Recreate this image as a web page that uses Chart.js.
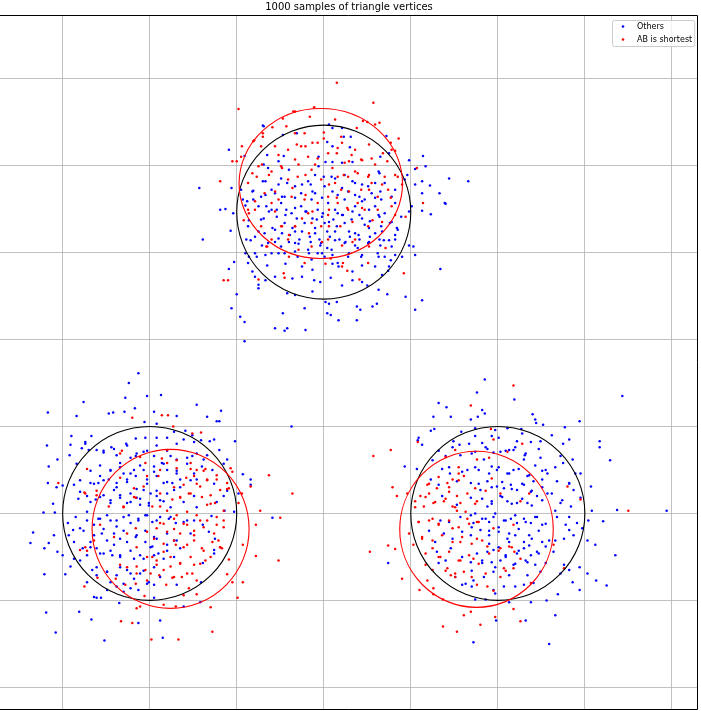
<!DOCTYPE html>
<html>
<head>
<meta charset="utf-8">
<script src="https://cdn.jsdelivr.net/npm/chart.js@4.4.1/dist/chart.umd.min.js"></script>
<style>
  html, body { margin: 0; padding: 0; background: #fff; }
</style>
</head>
<body>
<canvas id="c" width="701" height="711"></canvas>
<script>
const chartTitle = "1000 samples of triangle vertices";
const seriesLabels = ["Others", "AB is shortest"];
const seriesColors = ["#0000ff", "#ff0000"];

const xTicks = [-3, -2, -1, 0, 1, 2, 3, 4];
const yTicks = [-2, -1, 0, 1, 2, 3, 4, 5];
const xRange = [-3.72, 4.30];
const yRange = [-2.26, 5.73];

// [cx, cy, rx, ry] in data units
const vertexCircles = [[0, 3.464, 1, 1], [-2, 0, 1, 1], [2, 0, 1, 1]];
const shortestCircles = [[-0.034, 3.793, 0.939, 0.862], [-1.76, -0.178, 0.902, 0.914], [1.755, -0.183, 0.882, 0.897]];

// top vertex
const topOthers = [
  [-1.43,3.74],[-1.09,4.18],[-0.91,4.11],[-0.69,4.45],[-0.47,4.35],[0.06,4.47],[0.10,4.43],[0.21,4.43],[0.31,4.33],[0.23,4.33],[0.04,4.27],[0.10,4.22],[0.30,4.21],[0.72,4.34],[0.65,4.10],[0.75,4.14],[0.98,4.06],[1.14,4.11],[1.17,3.99],[1.05,3.96],[0.96,3.89],[1.44,3.85],[1.66,3.82],[1.05,3.78],[1.13,3.82],[1.22,3.77],[1.33,3.68],[1.39,3.57],[1.13,3.68],[-0.65,4.12],[-0.46,4.11],[-0.52,4.05],[-0.69,4.01],[-0.40,3.95],[-0.06,4.10],[0.02,4.04],[0.10,4.04],[0.21,4.03],[0.33,4.04],[-0.06,3.99],[-0.10,3.89],[0.00,3.87],[-0.25,3.78],[-0.15,3.78],[0.13,3.85],[0.33,3.82],[0.44,3.78],[0.59,3.80],[0.63,3.93],[-0.67,3.82],[-0.52,3.78],[-0.42,3.80],[-0.82,3.70],[-0.88,3.59],[-0.67,3.66],[-0.48,3.64],[-0.33,3.63],[-0.13,3.70],[-0.02,3.63],[0.10,3.70],[0.21,3.74],[0.36,3.66],[0.44,3.59],[0.59,3.63],[0.65,3.70],
  [-1.19,3.49],[-1.13,3.50],[-1.39,3.15],[-1.07,3.25],[-0.90,3.54],[-0.86,3.37],[-0.69,3.39],[-0.63,3.47],[-0.54,3.49],[-0.44,3.43],[-0.33,3.51],[-0.21,3.47],[-0.13,3.39],[-0.02,3.41],[0.06,3.35],[0.13,3.49],[0.21,3.43],[0.33,3.47],[0.44,3.39],[0.52,3.49],[0.63,3.43],[0.78,3.35],[0.84,3.28],[0.98,3.47],[1.13,3.48],[1.23,3.44],[1.40,3.56],
  [-0.75,3.24],[-0.59,3.28],[-0.48,3.22],[-0.36,3.28],[-0.25,3.24],[-0.10,3.28],[0.04,3.24],[0.15,3.30],[0.29,3.24],[0.40,3.20],[0.52,3.28],[0.67,3.24],[0.75,3.14],[0.82,3.20],
  [-0.84,3.14],[-0.71,3.08],[-0.56,3.12],[-0.40,3.12],[-0.29,3.10],[-0.15,3.12],[-0.04,3.08],[0.04,3.05],[0.13,3.14],[0.25,3.12],[0.36,3.08],[0.52,3.12],[0.65,3.08],[0.69,3.14],[0.98,3.08],[1.03,3.07],[1.05,2.97],[0.90,2.95],[0.82,2.97],
  [-0.90,2.99],[-0.86,2.95],[-0.77,2.95],[-0.67,2.97],[-0.52,2.99],[-0.33,3.01],[-0.17,2.99],[-0.02,2.99],[0.10,2.97],[0.29,2.99],[0.44,2.97],[0.63,2.95],
  [-1.03,2.89],[-1.09,2.81],[-0.65,2.85],[-0.44,2.87],[-0.25,2.84],[-0.13,2.80],[0.10,2.87],[0.17,2.84],[0.33,2.78],[0.44,2.85],[0.59,2.84],[0.75,2.84],[0.77,2.91],[1.34,2.81],
  [-0.82,2.78],[-0.79,2.72],[-0.67,2.68],[-0.75,2.59],[-0.56,2.72],[-0.36,2.70],[-0.25,2.72],[-0.11,2.68],[-0.04,2.66],[0.08,2.71],[0.21,2.62],[0.33,2.68],[0.44,2.66],[0.50,2.62],[0.67,2.74],[0.74,2.79],
  [-1.00,2.52],[-0.42,2.53],[-0.33,2.51],[-0.13,2.55],[0.02,2.43],[0.06,2.41],[0.15,2.43],[0.63,2.57],[0.73,2.52],[0.61,2.41],[0.56,2.38],[0.94,2.49],[1.13,2.45],[1.05,2.34],
  [-1.06,2.36],[-0.96,2.26],[-0.91,2.20],[-0.47,2.30],[-0.56,2.13],[-0.45,2.10],[-0.42,2.13],[-0.21,2.11],[-0.22,2.36],[0.04,2.30],[0.08,2.28],[0.17,2.22],[0.38,2.38],[0.42,2.34],[0.38,2.22],[-0.91,1.98],[-0.75,2.63],
  [-0.70,4.46],[-0.31,4.37],[-0.64,3.97],[-0.49,3.85],[-0.70,3.82],[-0.81,3.71],[-0.60,3.72],[-0.33,3.76],[-0.18,3.82],[0.09,3.87],[0.24,3.89],[0.36,3.80],[0.51,3.76],[0.64,3.91],[0.70,3.80],[0.82,3.72],[0.93,3.84],
  [-0.95,3.72],[-0.93,3.61],[-0.75,3.53],[-0.60,3.49],[-0.49,3.57],[-0.37,3.45],[-0.26,3.53],[-0.14,3.61],[-0.07,3.49],[0.05,3.57],[0.16,3.45],[0.24,3.61],[0.36,3.53],[0.47,3.61],[0.59,3.53],[0.70,3.45],[0.82,3.57],[0.89,3.41],
  [-0.87,3.30],[-0.72,3.38],[-0.56,3.26],[-0.45,3.34],[-0.33,3.24],[-0.22,3.34],[-0.10,3.22],[0.01,3.34],[0.13,3.24],[0.24,3.34],[0.36,3.22],[0.47,3.32],[0.59,3.22],[0.66,3.30],
  [-0.64,3.11],[-0.49,3.07],[-0.33,3.11],[-0.18,3.03],[-0.03,3.11],[0.09,3.03],[0.24,3.11],[0.39,3.05],[0.51,3.11],[-0.14,2.92],[0.01,2.95],[0.16,2.88],[0.43,2.95],[-0.79,2.99],[-0.87,2.88],[0.78,3.07],[0.70,2.95],[-1.04,3.45],[-1.06,3.74],[1.01,3.53],
  [-0.81,3.61],[-0.66,3.53],[-0.54,3.41],[-0.43,3.49],[-0.31,3.39],[-0.20,3.47],[-0.08,3.38],[-0.01,3.45],[0.11,3.38],[0.22,3.43],[0.32,3.38],[0.41,3.43],[0.53,3.36],[0.64,3.41],[0.76,3.34],[0.85,3.26],
  [-0.79,3.18],[-0.68,3.22],[-0.52,3.16],[-0.39,3.20],[-0.28,3.15],[-0.16,3.18],[-0.05,3.15],[0.07,3.18],[0.18,3.15],[0.30,3.18],[0.41,3.15],[0.53,3.18],[0.64,3.15],
  [-0.72,3.64],[-0.56,3.68],[-0.45,3.64],[-0.26,3.68],[-0.10,3.68],[0.01,3.76],[0.16,3.66],[0.28,3.70],[0.41,3.64],[0.55,3.68],[0.66,3.61],[0.78,3.64],
  [-0.45,2.99],[-0.30,2.95],[-0.07,2.99],[0.28,2.95],[0.62,2.99],[-0.60,2.99],[-0.89,3.15],[0.82,3.15]
];
const topShortest = [
  [0.15,4.95],[-0.98,4.65],[0.57,4.72],[-0.11,4.67],[-1.19,3.82],[-0.33,4.62],[-0.47,4.54],[-0.16,4.56],[0.13,4.53],[0.50,4.50],[-0.59,4.44],[-0.43,4.45],[-0.70,4.33],[-0.80,4.29],[-0.94,4.22],[-1.05,4.05],[0.82,4.17],[0.77,4.26],[0.86,4.31],[0.59,4.47],[0.38,4.43],[0.52,4.24],[-0.33,4.37],[-0.56,4.22],[-0.31,4.24],[-0.21,4.22],[-0.13,4.26],[0.00,4.38],[0.00,4.31],[0.21,4.26],[0.15,4.14],[0.36,4.18],[0.29,4.05],[0.44,4.06],[0.73,4.05],[0.82,3.89],[1.07,3.97],[0.90,3.78],[-0.82,3.91],[-0.71,4.01],[-0.63,3.89],[-0.48,3.97],[-0.29,4.01],[-0.21,3.89],[-0.10,4.01],[0.10,3.97],[0.23,3.89],[0.36,3.93],[0.52,3.89],[0.67,3.78],[0.77,3.63],[-0.56,3.70],[-0.36,3.74],[0.06,3.78],[0.29,3.70],[0.52,3.72],[-0.79,3.59],[-0.21,3.66],[0.15,3.63],
  [-1.15,2.68],[-1.10,2.68],[-0.46,2.76],[-0.45,2.71],[-0.75,2.69],[0.27,2.79],[0.21,2.84],[0.51,2.88],[0.41,2.69],[0.92,2.76],[0.02,2.87],[0.08,2.93],[-0.40,2.95],[-0.65,3.07],[-0.29,3.03],[0.52,3.07],[0.71,3.05],[1.14,3.57],[0.94,3.41],[0.82,3.43],[-0.92,3.37],[-0.40,3.20],[-0.17,3.22],[-0.02,3.12],[0.21,3.08],[0.33,3.12],[-0.33,3.30],[-0.25,3.39],[-0.48,3.30],[0.06,3.30],[0.19,3.30],[0.33,3.35],[0.56,3.37],[0.67,3.35],[-0.56,3.47],[-0.13,3.47],[0.06,3.49],[0.27,3.51],[0.44,3.51],[-0.79,3.49],[-0.86,3.45],
  [-0.35,4.62],[-0.70,4.37],[-0.81,4.28],[-0.95,4.10],[-1.00,4.05],[-0.52,4.12],[-0.41,4.18],[-0.26,4.22],[-0.18,4.10],[-0.07,4.08],[0.05,4.14],[0.16,4.20],[0.32,4.12],[0.43,4.07],[0.55,4.08],[0.68,4.14],[0.78,4.18],[0.64,4.49],[0.45,4.51],
  [-0.60,3.93],[-0.49,3.99],[-0.30,3.87],[-0.14,3.95],[-0.03,3.84],[0.13,3.80],[0.28,3.87],[0.43,3.72],[0.55,3.80],[0.62,3.64],[0.74,3.72],[-0.68,3.68],[-0.52,3.61],[-0.37,3.64],[-0.22,3.61],[0.05,3.64],[0.20,3.72],[-0.87,3.49],[-0.18,3.45],[0.05,3.43],[0.28,3.49],[0.47,3.49],[0.62,3.49],[-0.33,3.30],[-0.14,3.34],[-0.60,3.15],[-0.41,3.15],[-0.14,3.07],[0.05,3.15],[0.36,3.15],[0.22,2.88],[-0.22,2.88],[-0.66,3.07],
  [-0.77,3.87],[-0.87,3.80],[-0.41,3.84],[0.16,3.87],[0.39,3.91],[0.51,3.87],[0.70,3.87],[0.85,3.87],[-0.75,3.99],[-0.33,4.07],[0.24,4.03],[0.59,4.01],[-0.72,4.22],[-0.07,4.26],[0.20,4.33],[-0.22,4.37],
  [-0.60,3.57],[-0.07,3.57],[0.16,3.57],[0.39,3.57],[0.78,3.53],[-0.72,3.30],[-0.49,3.30],[-0.03,3.30],[0.51,3.30]
];

// bottom-left vertex
const leftOthers = [
  [-2.13,1.61],[-2.24,1.50],[-2.03,1.35],[-1.87,1.36],[-2.28,1.33],[-2.76,1.28],[-3.17,1.16],[-2.84,1.12],[-2.47,1.15],[-2.42,1.16],[-2.29,1.17],[-2.17,1.21],[-1.95,1.17],[-1.69,1.12],[-1.46,1.25],[-1.34,1.11],[-1.18,1.18],[-1.23,1.06],[-1.20,1.06],[-2.06,1.05],[-1.92,1.03],[-0.37,1.00],
  [-3.18,0.78],[-3.06,0.62],[-3.16,0.54],[-3.17,0.35],[-3.07,0.30],[-3.00,0.32],[-2.90,0.89],[-2.91,0.79],[-2.74,0.82],[-2.70,0.73],[-2.67,0.89],[-2.78,0.75],[-2.92,0.67],[-2.61,0.73],[-2.53,0.72],[-2.44,0.76],[-2.27,0.80],[-2.16,0.86],[-2.05,0.87],[-1.92,0.87],[-1.80,0.87],[-1.72,0.94],[-1.59,0.95],[-1.61,0.85],[-1.51,0.90],[-1.49,0.82],[-1.41,0.84],[-1.31,0.83],[-1.26,0.85],[-1.20,0.73],[-1.02,0.83],[-1.11,0.62],[-1.15,0.57],[-0.93,0.45],[-0.84,0.39],[-0.84,0.33],[-0.98,0.23],
  [-2.38,0.67],[-2.34,0.58],[-2.22,0.64],[-2.16,0.66],[-2.07,0.71],[-1.95,0.66],[-1.86,0.58],[-1.76,0.66],[-1.69,0.62],[-1.57,0.64],[-1.51,0.66],[-1.38,0.62],[-1.34,0.67],[-1.40,0.54],[-1.28,0.50],[-1.49,0.46],[-1.69,0.46],[-1.80,0.50],[-1.95,0.54],[-2.07,0.50],[-2.18,0.50],[-2.30,0.46],[-2.45,0.50],[-2.57,0.43],[-2.68,0.35],[-2.59,0.35],[-2.47,0.39],[-2.38,0.35],[-2.26,0.39],[-2.16,0.43],[-2.03,0.39],[-1.92,0.43],[-1.84,0.35],[-1.74,0.35],[-1.65,0.39],
  [-2.72,0.20],[-2.80,0.25],[-2.87,0.33],[-2.62,0.16],[-2.53,0.21],[-2.41,0.27],[-2.34,0.18],[-2.22,0.23],[-2.15,0.18],[-2.07,0.27],[-1.99,0.23],[-1.92,0.20],[-1.80,0.23],[-1.72,0.27],[-1.84,0.14],[-2.01,0.12],[-2.11,0.10],[-2.26,0.12],[-2.45,0.12],[-1.46,0.39],[-1.15,0.20],[-1.49,0.20],[-3.11,0.11],
  [-3.22,0.01],[-3.09,0.01],[-3.34,-0.22],[-3.37,-0.34],[-3.21,-0.40],[-3.16,-0.34],[-3.10,-0.25],[-3.06,-0.44],[-3.00,-0.48],[-3.21,-0.70],[-3.19,-1.14],[-3.08,-1.37],[-2.81,-1.13],[-2.67,-1.22],[-2.52,-1.46],[-2.35,-1.03],[-2.13,-1.26],[-1.88,-1.23],[-1.85,-1.43],
  [-2.94,-0.11],[-2.88,-0.19],[-2.80,-0.17],[-2.93,-0.25],[-2.87,-0.33],[-2.72,-0.08],[-2.64,-0.13],[-2.57,-0.06],[-2.55,-0.23],[-2.45,-0.08],[-2.38,-0.15],[-2.30,-0.04],[-2.22,-0.11],[-2.13,-0.06],[-2.05,-0.02],[-1.97,-0.10],[-1.88,-0.04],[-1.78,-0.06],[-1.70,-0.11],[-1.61,-0.10],[-1.49,-0.08],[-1.39,-0.13],[-1.29,-0.03],[-1.14,0.03],[-1.32,-0.21],[-1.25,-0.29],[-1.26,-0.42],[-1.26,-0.46],[-1.39,-0.57],[-1.03,0.02],[-0.59,-0.05],
  [-2.77,-0.40],[-2.72,-0.48],[-2.80,-0.54],[-2.87,-0.52],[-2.91,-0.61],[-2.97,-0.70],[-2.68,-0.33],[-2.61,-0.40],[-2.49,-0.31],[-2.41,-0.36],[-2.34,-0.29],[-2.26,-0.33],[-2.15,-0.25],[-2.05,-0.33],[-1.97,-0.38],[-1.92,-0.29],[-1.80,-0.36],[-1.72,-0.31],[-1.65,-0.40],
  [-2.53,-0.46],[-2.43,-0.48],[-2.34,-0.48],[-2.18,-0.52],[-2.07,-0.52],[-1.95,-0.48],[-1.84,-0.52],[-1.72,-0.50],
  [-2.66,-0.65],[-2.61,-0.71],[-2.49,-0.67],[-2.38,-0.71],[-2.26,-0.65],[-2.18,-0.75],[-2.11,-0.69],[-2.72,-0.79],[-2.64,-0.96],[-2.61,-0.97],[-2.56,-0.97],[-2.49,-0.88],[-2.38,-0.84],[-2.30,-0.90],[-2.22,-0.86],[-2.13,-0.88],[-1.95,-0.82],[-1.69,-0.82],[-1.41,-0.79],[-1.42,-1.02],[-1.61,-1.07],[-1.95,-0.97],[-2.01,-0.79],
  [-2.74,0.80],[-2.53,0.70],[-2.41,0.74],[-2.26,0.78],[-2.15,0.69],[-2.03,0.72],[-1.92,0.78],[-1.80,0.72],[-1.69,0.80],[-2.84,0.57],[-2.68,0.49],[-2.57,0.55],[-2.45,0.49],[-2.34,0.53],[-2.22,0.46],[-2.11,0.55],[-1.95,0.48],[-1.84,0.57],[-1.69,0.49],[-1.57,0.57],[-1.46,0.69],
  [-2.80,0.38],[-2.64,0.34],[-2.53,0.38],[-2.38,0.30],[-2.26,0.36],[-2.15,0.28],[-2.03,0.34],[-1.92,0.26],[-1.80,0.36],[-1.65,0.30],[-1.53,0.38],[-1.26,0.34],[-1.11,0.26],
  [-2.82,0.17],[-2.68,0.13],[-2.57,0.19],[-2.45,0.15],[-2.34,0.21],[-2.22,0.13],[-2.11,0.17],[-2.01,0.09],[-1.88,0.15],[-1.76,0.07],[-1.61,0.13],[-1.46,0.07],[-1.23,0.13],
  [-2.85,-0.04],[-2.72,0.02],[-2.59,-0.06],[-2.49,-0.02],[-2.38,-0.08],[-2.24,-0.02],[-2.13,-0.08],[-2.03,-0.02],[-1.92,-0.08],[-1.76,-0.04],[-1.57,-0.08],
  [-2.76,-0.20],[-2.64,-0.25],[-2.53,-0.18],[-2.41,-0.23],[-2.30,-0.20],[-2.16,-0.27],[-2.05,-0.20],[-1.95,-0.27],[-1.80,-0.23],[-1.69,-0.31],[-1.53,-0.23],
  [-2.68,-0.39],[-2.57,-0.46],[-2.45,-0.43],[-2.34,-0.50],[-2.22,-0.43],[-2.11,-0.48],[-1.99,-0.39],[-1.90,-0.46],[-1.80,-0.43],
  [-2.61,-0.62],[-2.49,-0.67],[-2.34,-0.62],[-2.22,-0.69],[-2.07,-0.66],[-1.95,-0.62],[-1.88,-0.73],[-2.45,-0.79],[-2.30,-0.81],[-2.03,-0.81]
];
const leftShortest = [
  [-2.20,1.10],[-1.86,1.13],[-1.79,1.13],[-1.73,1.00],[-1.51,0.92],[-1.41,0.93],[-3.05,0.35],[-2.72,0.51],[-2.32,0.72],[-1.07,0.52],[-1.05,0.48],[-0.63,0.44],[-0.36,0.23],[-0.84,0.31],[-1.36,0.51],[-1.46,0.50],[-1.49,0.43],[-1.58,0.41],[-1.61,0.33],[-1.80,0.73],[-1.69,0.52],[-1.88,0.50],[-1.90,0.43],[-2.03,0.43],[-2.07,0.31],[-2.34,0.41],[-2.18,0.29],[-2.05,0.58],[-1.80,0.58],[-1.53,0.58],[-1.34,0.39],[-1.23,0.39],[-1.19,0.27],[-1.30,0.21],[-1.42,0.31],[-1.55,0.23],[-1.65,0.18],[-1.74,0.16],[-1.88,0.08],[-1.97,0.08],[-2.16,0.18],[-2.30,0.08],[-2.61,0.21],[-2.47,0.08],[-1.34,0.10],[-1.25,0.12],[-1.11,0.35],[-1.09,0.29],[-0.98,0.12],[-0.94,0.23],[-2.75,0.24],
  [-0.73,0.03],[-0.50,-0.05],[-0.78,-0.13],[-0.93,-0.36],[-0.78,-0.49],[-0.52,-0.54],[-1.05,-0.79],[-0.93,-0.79],[-0.99,-0.97],[-1.28,-1.36],[-1.67,-1.45],[-1.98,-1.45],[-1.30,-1.08],[-1.46,-0.93],[-1.55,-0.86],[-1.61,-0.94],[-1.70,-1.07],[-1.84,-1.05],[-2.15,-1.09],[-2.33,-1.24],[-2.20,-1.26],[-2.11,-1.07],[-2.06,-0.95],[-1.11,-0.70],[-1.09,-0.53],[-1.17,-0.40],[-1.21,-0.31],[-2.74,-0.39],[-2.75,-0.84],[-2.60,-0.74],[-2.34,-0.59],[-2.39,-0.75],[-2.28,-0.82],[-2.16,-0.81],[-2.15,-0.61],[-2.03,-0.77],[-2.05,-0.65],[-1.89,-0.71],[-1.81,-0.82],[-1.74,-0.74],[-1.63,-0.73],[-1.51,-0.69],[-1.49,-0.59],[-1.36,-0.54],[-1.65,-0.57],[-1.76,-0.61],[-1.92,-0.59],[-1.97,-0.50],[-1.84,-0.44],[-1.70,-0.36],[-1.57,-0.36],[-1.40,-0.40],[-1.19,-0.39],[-1.28,-0.33],[-1.49,-0.25],[-1.65,-0.23],[-1.80,-0.21],[-1.92,-0.17],[-2.03,-0.21],[-2.16,-0.17],[-2.26,-0.23],[-2.41,-0.27],[-2.57,-0.13],[-1.23,-0.13],[-1.42,-0.08],[-1.57,-0.13],[-1.72,-0.06],[-1.88,-0.11],[-1.15,-0.08],[-2.80,-0.42],
  [-2.34,0.69],[-2.11,0.65],[-1.86,0.63],[-1.69,0.61],[-1.53,0.51],[-1.38,0.49],[-1.46,0.34],[-1.34,0.38],[-1.23,0.44],[-1.11,0.28],[-1.72,0.30],[-1.88,0.23],[-1.65,0.19],[-1.53,0.23],[-1.40,0.19],[-1.30,0.11],[-1.15,0.03],[-2.18,0.19],[-2.30,0.07],
  [-1.80,0.03],[-1.69,-0.02],[-1.57,0.02],[-1.46,-0.02],[-1.34,-0.08],[-1.23,-0.04],[-1.84,-0.12],[-1.72,-0.18],[-1.61,-0.12],[-1.49,-0.20],[-1.38,-0.16],[-1.26,-0.23],[-1.15,-0.16],
  [-1.95,-0.29],[-1.84,-0.35],[-1.72,-0.31],[-1.61,-0.39],[-1.49,-0.31],[-1.38,-0.43],[-1.19,-0.39],[-2.15,-0.39],[-2.03,-0.50],[-1.92,-0.54],[-1.76,-0.50],[-1.65,-0.58],[-1.53,-0.50],[-1.42,-0.58],[-1.30,-0.50],
  [-2.26,-0.62],[-2.15,-0.69],[-1.99,-0.69],[-1.84,-0.65],[-1.72,-0.73],[-1.57,-0.69],[-1.46,-0.77],[-2.72,-0.43],[-2.64,-0.31],[-2.74,0.23],[-2.61,0.26]
];

// bottom-right vertex
const rightOthers = [
  [1.85,1.54],[1.76,1.39],[2.19,1.31],[1.32,1.27],[1.41,1.22],[1.82,1.19],[1.85,1.15],[1.77,1.11],[1.69,1.08],[1.26,1.11],[1.46,1.11],[2.40,1.14],[2.43,1.08],[2.44,1.04],[2.52,1.02],[2.94,1.06],[3.43,1.35],[1.23,0.95],[1.27,0.97],[1.09,0.87],[1.08,0.84],[1.13,0.79],[0.93,0.54],[1.07,0.51],[1.58,0.94],[1.74,0.98],[1.97,0.96],[2.11,0.98],[2.27,0.97],[2.28,0.92],[2.22,0.83],[2.38,0.82],[2.49,0.83],[2.62,0.90],[2.77,0.99],[2.82,0.85],[2.75,0.80],[3.17,0.83],[3.17,0.76],[3.29,0.61],[3.07,0.31],
  [1.49,0.83],[1.56,0.79],[1.67,0.80],[1.74,0.89],[1.82,0.81],[1.88,0.74],[1.93,0.89],[2.01,0.87],[1.95,0.70],[2.03,0.71],[2.13,0.73],[2.18,0.73],[2.31,0.67],[2.30,0.62],[2.43,0.55],[2.49,0.64],[2.55,0.50],[2.57,0.46],[2.72,0.66],[2.75,0.58],[2.86,0.62],[2.89,0.46],[2.95,0.46],[2.82,0.35],[2.87,0.27],[2.95,0.18],
  [1.40,0.66],[1.57,0.67],[1.74,0.71],[1.84,0.62],[1.36,0.51],[1.45,0.46],[1.53,0.37],[1.65,0.50],[1.78,0.50],[1.93,0.54],[1.99,0.50],[2.11,0.46],[2.18,0.50],[2.34,0.43],[2.41,0.37],[2.51,0.39],[2.68,0.37],[1.23,0.39],[1.32,0.33],[1.69,0.35],[1.80,0.27],[1.88,0.37],[1.99,0.31],[2.07,0.29],[2.15,0.33],[2.22,0.27],[2.30,0.33],[2.38,0.25],[2.45,0.20],[2.57,0.23],[2.03,0.20],[1.93,0.14],[2.11,0.14],[2.22,0.12],[2.34,0.12],[1.88,0.08],[1.69,0.18],[1.53,0.10],[1.36,0.20],[3.37,0.04],[2.72,0.12],[2.84,0.08],
  [3.08,0.03],[3.94,0.03],[3.04,-0.08],[3.21,-0.09],[3.03,-0.31],[3.12,-0.36],[3.35,-0.48],[2.94,-0.62],[3.03,-0.69],[3.13,-0.77],[3.25,-0.83],[2.94,-0.88],[2.86,-0.79],[2.69,-0.93],[2.56,-1.00],[2.38,-1.02],[2.32,-1.23],[1.98,-1.23],[2.66,-1.17],[2.59,-1.50],[1.72,-1.48],[0.74,-0.57],[1.21,-0.20],[1.34,-0.08],[1.44,-0.10],[1.57,-0.04],[1.69,-0.02],[1.72,-0.11],[1.82,-0.06],[1.90,-0.10],[1.95,-0.04],[2.07,-0.08],[2.15,-0.06],[2.22,-0.11],[2.30,-0.06],[2.38,-0.11],[2.45,-0.04],[2.51,-0.13],[2.68,-0.04],[2.78,-0.13],[2.82,-0.19],[2.91,-0.11],[2.97,-0.17],[2.87,-0.25],[2.76,-0.29],[2.66,-0.31],[2.51,-0.33],[2.39,-0.29],[2.30,-0.33],[2.20,-0.25],[2.11,-0.29],[2.01,-0.21],[1.90,-0.25],[1.80,-0.19],[1.69,-0.25],[1.59,-0.21],[1.48,-0.29],[1.38,-0.23],[1.28,-0.33],
  [2.64,-0.44],[2.55,-0.38],[2.45,-0.44],[2.38,-0.48],[2.30,-0.40],[2.22,-0.46],[2.09,-0.48],[1.95,-0.42],[1.88,-0.44],[1.76,-0.46],[1.30,-0.44],[1.46,-0.40],[1.59,-0.50],[1.32,-0.57],[1.40,-0.54],[1.69,-0.56],[1.82,-0.57],[1.93,-0.56],[2.03,-0.54],[2.18,-0.59],[2.34,-0.56],[2.43,-0.59],[2.55,-0.57],[2.76,-0.59],[2.82,-0.65],[2.72,-0.69],[2.49,-0.67],[2.34,-0.71],[2.13,-0.71],[1.95,-0.67],[1.84,-0.73],[1.72,-0.77],[1.59,-0.82],[1.70,-0.84],[1.95,-0.88],[1.97,-0.92],[2.07,-0.84],[2.20,-0.84],[2.30,-0.82],[2.41,-0.80],[1.74,-0.99],[1.86,-0.99],[2.13,-1.02],
  [1.48,0.76],[1.70,0.69],[1.86,0.76],[2.09,0.72],[2.20,0.76],[2.32,0.69],[2.47,0.74],[1.44,0.53],[1.59,0.48],[1.74,0.53],[1.90,0.46],[2.01,0.53],[2.13,0.46],[2.24,0.51],[2.36,0.44],[2.51,0.49],[2.66,0.53],[2.82,0.34],
  [1.78,0.34],[1.93,0.30],[2.05,0.36],[2.16,0.28],[2.28,0.34],[2.39,0.26],[2.51,0.30],[2.62,0.23],[2.74,0.15],[1.82,0.17],[1.93,0.11],[2.05,0.19],[2.16,0.11],[2.28,0.17],[2.39,0.09],[2.51,0.15],[2.66,0.03],[2.82,-0.04],
  [1.74,0.00],[1.86,-0.06],[1.97,0.00],[2.09,-0.08],[2.20,-0.02],[2.32,-0.10],[2.43,-0.04],[2.55,-0.12],[1.70,-0.16],[1.90,-0.20],[2.01,-0.16],[2.13,-0.23],[2.24,-0.18],[2.36,-0.25],[2.47,-0.20],[2.59,-0.31],
  [1.90,-0.35],[2.01,-0.39],[2.13,-0.33],[2.24,-0.43],[2.36,-0.37],[2.47,-0.46],[2.09,-0.50],[2.20,-0.58],[2.32,-0.54],[1.97,-0.62],[1.82,-0.54],[1.70,-0.66],[1.51,-0.73],[1.63,-0.81],[1.32,0.72],[1.25,0.61]
];
const rightShortest = [
  [2.18,1.47],[1.69,1.24],[0.57,0.66],[0.77,0.73],[1.08,0.82],[1.92,0.97],[1.95,0.85],[2.28,0.80],[2.11,0.71],[1.51,0.73],[1.90,0.64],[1.76,0.62],[0.79,0.30],[0.84,0.20],[0.96,0.23],[1.11,0.20],[1.21,0.23],[1.19,0.33],[1.30,0.29],[1.42,0.35],[1.48,0.39],[1.55,0.46],[1.61,0.43],[1.44,0.25],[1.53,0.20],[1.65,0.23],[1.74,0.29],[1.76,0.14],[1.57,0.12],[1.38,0.14],[1.26,0.12],[1.15,0.08],[1.05,0.14],[1.48,0.08],[2.03,0.23],[2.26,0.14],[2.36,0.23],[2.80,0.31],[2.95,0.16],
  [3.50,0.03],[0.53,-0.44],[0.74,-0.37],[0.82,-0.41],[0.90,-0.75],[1.10,-0.88],[1.26,-0.93],[1.37,-0.99],[1.37,-1.30],[1.53,-1.36],[1.61,-1.17],[1.69,-1.13],[1.80,-1.28],[1.97,-1.19],[2.18,-1.10],[2.26,-1.24],[1.95,-0.89],[1.09,-0.10],[1.13,-0.29],[1.03,-0.36],[1.17,-0.59],[1.25,-0.65],[1.19,-0.77],[1.26,-0.86],[1.25,-0.40],[1.34,-0.50],[1.42,-0.63],[1.46,-0.71],[1.51,-0.73],[1.61,-0.67],[1.76,-0.82],[1.88,-0.84],[1.57,-0.54],[1.72,-0.52],[1.88,-0.38],[2.03,-0.40],[2.13,-0.38],[2.19,-0.44],[2.26,-0.52],[2.18,-0.63],[2.03,-0.73],[2.07,-0.63],[2.38,-0.80],[2.76,-0.63],[2.64,-0.36],[1.57,-0.33],[1.48,-0.17],[1.32,-0.13],[1.25,-0.06],[1.53,0.03],[1.65,-0.06],[1.76,-0.10],[1.95,-0.17],[2.18,-0.13],[1.76,-0.29],
  [1.21,0.34],[1.32,0.42],[1.44,0.30],[1.55,0.38],[1.17,0.19],[1.28,0.13],[1.40,0.17],[1.51,0.07],[1.63,0.02],[1.74,0.11],[1.09,-0.10],[1.21,-0.08],[1.32,-0.12],[1.44,-0.08],[1.55,-0.16],[1.67,-0.12],[1.78,-0.10],
  [1.13,-0.27],[1.25,-0.31],[1.36,-0.25],[1.48,-0.33],[1.59,-0.27],[1.70,-0.35],[1.82,-0.31],[1.17,-0.46],[1.32,-0.50],[1.44,-0.44],[1.55,-0.54],[1.67,-0.48],[1.78,-0.58],[1.90,-0.46],[2.01,-0.43],[2.16,-0.39],
  [1.40,-0.66],[1.51,-0.69],[1.70,-0.73],[1.86,-0.69],[2.09,-0.66],[1.55,0.53],[1.40,0.65],[1.86,0.26],[1.93,0.40],[1.05,0.07],[0.98,-0.23]
];

const toPoints = (arr) => arr.map(([x, y]) => ({ x, y }));

const circlesPlugin = {
  id: "circles",
  afterDatasetsDraw(chart) {
    const { ctx, chartArea, scales } = chart;
    const xs = scales.x, ys = scales.y;
    ctx.save();
    ctx.beginPath();
    ctx.rect(chartArea.left, chartArea.top, chartArea.width, chartArea.height);
    ctx.clip();
    const draw = (list, color) => {
      ctx.strokeStyle = color;
      ctx.lineWidth = 1.1;
      list.forEach(([cx, cy, rx, ry]) => {
        const px = xs.getPixelForValue(cx);
        const py = ys.getPixelForValue(cy);
        const rpx = Math.abs(xs.getPixelForValue(cx + rx) - px);
        const rpy = Math.abs(ys.getPixelForValue(cy + ry) - py);
        ctx.beginPath();
        ctx.ellipse(px, py, rpx, rpy, 0, 0, Math.PI * 2);
        ctx.stroke();
      });
    };
    draw(vertexCircles, "#000000");
    draw(shortestCircles, "#ff0000");
    ctx.restore();
  }
};

// matplotlib-like spines (the left one is off-canvas)
const framePlugin = {
  id: "frame",
  afterDatasetsDraw(chart) {
    const { ctx, chartArea: a } = chart;
    ctx.save();
    ctx.strokeStyle = "#000000";
    ctx.lineWidth = 1;
    ctx.beginPath();
    ctx.moveTo(a.left, a.top + 0.5);
    ctx.lineTo(a.right - 0.5, a.top + 0.5);
    ctx.lineTo(a.right - 0.5, a.bottom - 0.5);
    ctx.lineTo(a.left, a.bottom - 0.5);
    ctx.stroke();
    ctx.restore();
  }
};

const legendPlugin = {
  id: "cornerLegend",
  afterDraw(chart) {
    const { ctx, chartArea } = chart;
    ctx.save();
    ctx.font = "8px 'DejaVu Sans'";
    const w = Math.max(...seriesLabels.map(t => ctx.measureText(t).width)) + 27;
    const h = 26;
    const left = Math.round(chartArea.right - 4 - w);
    const top = chartArea.top + 5;
    ctx.fillStyle = "rgba(255,255,255,0.8)";
    ctx.strokeStyle = "#cccccc";
    ctx.lineWidth = 1;
    ctx.beginPath();
    ctx.roundRect(left + 0.5, top + 0.5, w, h, 2);
    ctx.fill();
    ctx.stroke();
    ctx.textBaseline = "middle";
    seriesLabels.forEach((t, i) => {
      const cy = top + 6.5 + i * 13;
      ctx.fillStyle = seriesColors[i];
      ctx.beginPath();
      ctx.arc(left + 11, cy, 1.3, 0, Math.PI * 2);
      ctx.fill();
      ctx.fillStyle = "#000000";
      ctx.fillText(t, left + 25, cy);
    });
    ctx.restore();
  }
};

new Chart(document.getElementById("c"), {
  type: "scatter",
  data: {
    datasets: [
      {
        label: seriesLabels[0],
        data: toPoints([...topOthers, ...leftOthers, ...rightOthers]),
        backgroundColor: seriesColors[0],
        pointRadius: 1.25,
        pointHoverRadius: 1.25,
        pointBorderWidth: 0,
        order: 1
      },
      {
        label: seriesLabels[1],
        data: toPoints([...topShortest, ...leftShortest, ...rightShortest]),
        backgroundColor: seriesColors[1],
        pointRadius: 1.25,
        pointHoverRadius: 1.25,
        pointBorderWidth: 0,
        order: 0
      }
    ]
  },
  options: {
    responsive: false,
    animation: false,
    devicePixelRatio: 1,
    events: [],
    layout: { autoPadding: false, padding: { left: 0, right: 3, top: 0, bottom: 1 } },
    plugins: {
      legend: { display: false },
      tooltip: { enabled: false },
      title: {
        display: true,
        text: chartTitle,
        color: "#000000",
        font: { family: "'DejaVu Sans'", size: 10, weight: "normal" },
        padding: { top: 1, bottom: 2 }
      }
    },
    scales: {
      x: {
        type: "linear",
        min: xRange[0],
        max: xRange[1],
        ticks: { display: false },
        grid: { color: "#b0b0b0", lineWidth: 0.8, drawTicks: false },
        border: { display: false },
        afterBuildTicks: (s) => { s.ticks = xTicks.map(v => ({ value: v })); }
      },
      y: {
        type: "linear",
        min: yRange[0],
        max: yRange[1],
        ticks: { display: false },
        grid: { color: "#b0b0b0", lineWidth: 0.8, drawTicks: false },
        border: { display: false },
        afterBuildTicks: (s) => { s.ticks = yTicks.map(v => ({ value: v })); }
      }
    }
  },
  plugins: [circlesPlugin, framePlugin, legendPlugin]
});
</script>
</body>
</html>
